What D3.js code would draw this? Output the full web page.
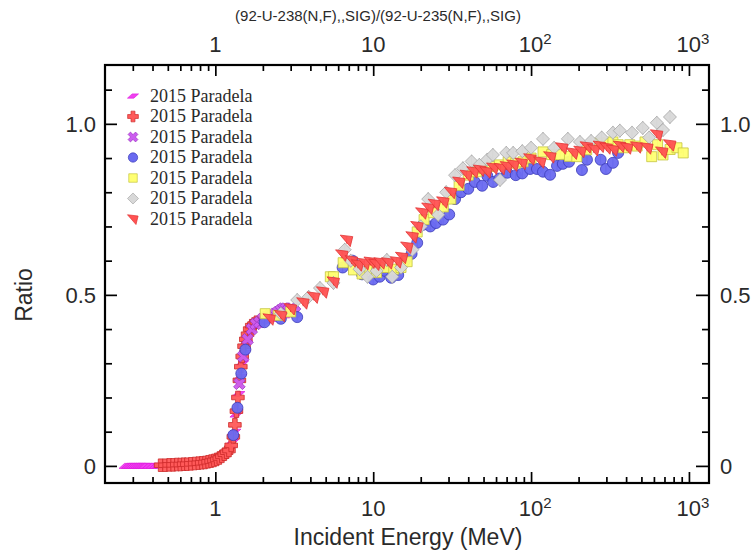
<!DOCTYPE html>
<html>
<head>
<meta charset="utf-8">
<script src="https://cdn.jsdelivr.net/npm/d3@7"></script>
<style>
  html, body { margin: 0; padding: 0; background: #fff; }
  svg { display: block; }
</style>
</head>
<body>
<svg id="chart" width="755" height="554"></svg>
<script>
// ---------------- DATA ----------------
const chartTitle = "(92-U-238(N,F),,SIG)/(92-U-235(N,F),,SIG)";
const xTitle = "Incident Energy (MeV)";
const yTitle = "Ratio";
const seriesNames = ["2015 Paradela","2015 Paradela","2015 Paradela","2015 Paradela","2015 Paradela","2015 Paradela","2015 Paradela"];

const xMajorTicks = [1, 10, 100, 1000];
const xTickLabels = [["1",""],["10",""],["10","2"],["10","3"]];
const yMajorTicks = [0, 0.5, 1.0];
const yTickLabels = ["0", "0.5", "1.0"];
const yMinorTicks = [0.1,0.2,0.3,0.4,0.6,0.7,0.8,0.9,1.1];

// series 1: magenta parallelogram
const e1 = [0.27,0.28,0.29,0.30,0.31,0.32,0.33,0.34,0.35,0.36,0.38,0.40,0.42,0.44,0.46,0.48,0.50,0.53,0.56,0.59,0.62,0.65,0.68,0.72,0.76,0.80,0.84,0.88,0.92,0.96,1.00,1.04,1.08,1.12,1.16,1.20,1.24,1.28,1.32,1.36,1.40,1.44,1.48,1.52,1.56,1.60,1.65,1.70,1.75,1.80,1.85,1.90,1.95,2.0,2.1,2.2,2.3,2.4,2.5,2.6,2.7,2.8,2.9,3.0];
const r1 = [0,0,0,0,0,0,0,0,0,0,0,0,0,0.001,0.001,0.002,0.002,0.003,0.003,0.004,0.005,0.005,0.006,0.007,0.008,0.009,0.011,0.012,0.014,0.016,0.019,0.022,0.026,0.031,0.038,0.045,0.05,0.07,0.10,0.15,0.21,0.26,0.30,0.33,0.36,0.38,0.39,0.40,0.41,0.415,0.42,0.415,0.425,0.43,0.43,0.425,0.435,0.43,0.44,0.435,0.44,0.445,0.44,0.45];

// series 2: red cross
const e2 = [0.45,0.48,0.51,0.54,0.57,0.60,0.63,0.66,0.70,0.74,0.78,0.82,0.86,0.90,0.94,0.98,1.02,1.06,1.10,1.14,1.18,1.22,1.26,1.30,1.33,1.36,1.39,1.42,1.45,1.48,1.52,1.56,1.60,1.65,1.70,1.76,1.82];
const r2 = [0.002,0.002,0.003,0.003,0.004,0.004,0.005,0.005,0.006,0.007,0.008,0.009,0.010,0.012,0.014,0.016,0.019,0.023,0.028,0.034,0.040,0.045,0.06,0.085,0.12,0.16,0.20,0.25,0.29,0.32,0.35,0.37,0.385,0.40,0.41,0.415,0.42];

// series 3: magenta X
const e3 = [1.42,1.5,1.6,1.7,1.8,1.9,2.0,2.1,2.2,2.3,2.4,2.5,2.6,2.7,2.8,2.9,3.0,3.1,3.2];
const r3 = [0.24,0.32,0.37,0.40,0.415,0.42,0.43,0.435,0.44,0.44,0.445,0.45,0.455,0.46,0.46,0.455,0.46,0.455,0.45];

// series 4: blue circle
const e4 = [1.30,1.38,1.46,1.55,2.05,2.6,3.3,6.4,7.4,8.5,10,11,11.9,13,14.4,15.9,17.5,19,20.7,23,25,27.7,30.3,33,36,40,44,49,52.8,57.5,63,70.6,80,88,98.5,109,119,132,146,159,174,210,226,276,298,330,356];
const r4 = [0.09,0.17,0.27,0.34,0.42,0.43,0.435,0.58,0.60,0.56,0.545,0.553,0.57,0.55,0.558,0.60,0.62,0.652,0.705,0.70,0.71,0.72,0.735,0.78,0.80,0.81,0.83,0.819,0.848,0.83,0.84,0.857,0.85,0.855,0.868,0.868,0.86,0.851,0.877,0.883,0.889,0.865,0.895,0.895,0.868,0.886,0.915];

// series 5: yellow square
const e5 = [2.07,2.5,3.0,5.35,5.6,6.45,7.5,8.5,9.5,10.5,12,13.5,15,16.4,19,21,24,27.8,31,35,40,45,50,56,63,71.6,80,89,100,119,135,153,175,195,225,272,303,330,356,385,422,470,527,581,633,685,760,840,920];
const r5 = [0.445,0.44,0.45,0.553,0.553,0.594,0.573,0.561,0.575,0.565,0.58,0.575,0.58,0.597,0.684,0.72,0.74,0.757,0.78,0.82,0.85,0.86,0.87,0.875,0.88,0.889,0.885,0.889,0.9,0.918,0.91,0.91,0.905,0.904,0.924,0.944,0.944,0.947,0.939,0.93,0.939,0.935,0.947,0.904,0.939,0.909,0.925,0.93,0.915];

// series 6: grey diamond
const e6 = [2.6,3.3,3.9,4.6,5.6,6.6,7.2,8.2,9.2,10.5,12.2,13.2,15,17.7,20,22.3,25.8,29,33,37,42,47,52.7,57.3,63.6,69.6,77,88,100,119,140,171,204,240,280,330,365,436,510,560,626,685,758];
const r6 = [0.445,0.485,0.494,0.52,0.535,0.632,0.60,0.575,0.553,0.57,0.602,0.553,0.58,0.632,0.70,0.78,0.734,0.80,0.85,0.87,0.89,0.88,0.895,0.909,0.836,0.915,0.915,0.92,0.93,0.956,0.93,0.956,0.947,0.95,0.96,0.974,0.98,0.974,0.988,0.96,1.003,0.982,1.02];

// series 7: red triangle
const e7 = [2.2,2.6,3.0,3.6,4.2,4.8,5.6,6.35,6.8,7.3,8.0,8.8,9.6,10.3,11.1,12.4,14.1,15.2,16.4,17.7,19,20.4,22.3,24.5,27.7,31,35,39,43,47.4,52,57.4,64,70,77,87,98.6,114,132,157,184,205,225,250,272,300,330,365,405,468,543,626,675,758];
const r7 = [0.43,0.44,0.46,0.477,0.494,0.509,0.538,0.617,0.66,0.60,0.588,0.592,0.596,0.59,0.594,0.594,0.597,0.61,0.64,0.67,0.70,0.74,0.754,0.765,0.772,0.80,0.83,0.85,0.86,0.865,0.86,0.871,0.87,0.875,0.88,0.885,0.898,0.889,0.904,0.93,0.915,0.92,0.933,0.925,0.935,0.93,0.924,0.935,0.93,0.933,0.93,0.968,0.918,0.939];

const seriesErr = [0, 0, 0, 0.014, 0.01, 0.02, 0.01];

// ---------------- STYLE ----------------
const styles = [
  {shape:"para",   fill:"#f040f0", stroke:"#e020e0"},
  {shape:"cross",  fill:"#ff5a5a", stroke:"#cc2a2a"},
  {shape:"xcross", fill:"#cc5cf0", stroke:"#9a36c0"},
  {shape:"circle", fill:"#6a6af0", stroke:"#3a3ab8"},
  {shape:"square", fill:"#ffff72", stroke:"#c4c440"},
  {shape:"diamond",fill:"#d8d8d8", stroke:"#a6a6a6"},
  {shape:"tri",    fill:"#ff5252", stroke:"#e23232"}
];
const energies = [e1,e2,e3,e4,e5,e6,e7];
const ratios = [r1,r2,r3,r4,r5,r6,r7];

const svg = d3.select("#chart");
const L = 105, R = 709, T = 65, B = 483;

const x = d3.scaleLog().domain([0.2, 1340]).range([L, R]);
const y = d3.scaleLinear().domain([-0.05, 1.172]).range([B, T]);

const sansFont = "'Liberation Sans', Arial, sans-serif";
const serifFont = "'Liberation Serif', 'Times New Roman', serif";
const textColor = "#2a2a2a";

function shapePath(shape) {
  switch (shape) {
    case "para":   return "M-6.5,2.5 L1,2.5 L6.5,-2.5 L-1,-2.5 Z";
    case "cross":  return "M-2.3,-6.3 L2.3,-6.3 L2.3,-2.3 L6.3,-2.3 L6.3,2.3 L2.3,2.3 L2.3,6.3 L-2.3,6.3 L-2.3,2.3 L-6.3,2.3 L-6.3,-2.3 L-2.3,-2.3 Z";
    case "xcross": return "M0,-2.8 L3,-5.8 L5.8,-3 L2.8,0 L5.8,3 L3,5.8 L0,2.8 L-3,5.8 L-5.8,3 L-2.8,0 L-5.8,-3 L-3,-5.8 Z";
    case "circle": return d3.symbol(d3.symbolCircle, 95)();
    case "square": return "M-5,-5 L5,-5 L5,5 L-5,5 Z";
    case "diamond":return "M0,-6.5 L6.5,0 L0,6.5 L-6.5,0 Z";
    case "tri":    return "M-6.5,-5 L6,-3.5 L3.5,6.5 Z";
  }
}

// clip
svg.append("clipPath").attr("id","clip").append("rect")
  .attr("x", L).attr("y", T).attr("width", R-L).attr("height", B-T);

const plot = svg.append("g").attr("clip-path","url(#clip)");

energies.forEach((es, i) => {
  const st = styles[i];
  const pts = es.map((e, j) => ({e, r: ratios[i][j]}));
  const g = plot.append("g");
  if (seriesErr[i] > 0) {
    g.selectAll("line.err").data(pts).enter().append("line")
      .attr("x1", d => x(d.e)).attr("x2", d => x(d.e))
      .attr("y1", d => y(d.r - seriesErr[i])).attr("y2", d => y(d.r + seriesErr[i]))
      .attr("stroke", st.stroke).attr("stroke-width", 1);
  }
  g.selectAll("path.m").data(pts).enter().append("path")
    .attr("d", shapePath(st.shape))
    .attr("transform", d => `translate(${x(d.e)},${y(d.r)})`)
    .attr("fill", st.fill).attr("stroke", st.stroke).attr("stroke-width", 0.8)
    .attr("fill-opacity", 0.95);
});

// ---------- axes ----------
const minorX = [];
[0.1, 1, 10, 100].forEach(dec => { for (let k = 2; k <= 9; k++) minorX.push(dec*k); });
const minorXIn = minorX.filter(v => v > 0.2 && v < 1340);

const axB = svg.append("g").attr("transform", `translate(0,${B})`)
  .call(d3.axisBottom(x).tickValues(xMajorTicks).tickSize(-11).tickFormat(""));
const axBm = svg.append("g").attr("transform", `translate(0,${B})`)
  .call(d3.axisBottom(x).tickValues(minorXIn).tickSize(-6).tickFormat(""));
const axT = svg.append("g").attr("transform", `translate(0,${T})`)
  .call(d3.axisTop(x).tickValues(xMajorTicks).tickSize(-11).tickFormat(""));
const axTm = svg.append("g").attr("transform", `translate(0,${T})`)
  .call(d3.axisTop(x).tickValues(minorXIn).tickSize(-6).tickFormat(""));
const axL = svg.append("g").attr("transform", `translate(${L},0)`)
  .call(d3.axisLeft(y).tickValues(yMajorTicks).tickSize(-12).tickFormat(""));
const axLm = svg.append("g").attr("transform", `translate(${L},0)`)
  .call(d3.axisLeft(y).tickValues(yMinorTicks).tickSize(-7).tickFormat(""));
const axR = svg.append("g").attr("transform", `translate(${R},0)`)
  .call(d3.axisRight(y).tickValues(yMajorTicks).tickSize(-13).tickFormat(""));
const axRm = svg.append("g").attr("transform", `translate(${R},0)`)
  .call(d3.axisRight(y).tickValues(yMinorTicks).tickSize(-7).tickFormat(""));

[axB,axBm,axT,axTm,axL,axLm,axR,axRm].forEach(a => {
  a.select(".domain").remove();
  a.selectAll("line").attr("stroke","#000").attr("stroke-width",1.7);
});

// frame
svg.append("rect").attr("x", L).attr("y", T).attr("width", R-L).attr("height", B-T)
  .attr("fill","none").attr("stroke","#000").attr("stroke-width",2.2);

// x tick labels top & bottom
function xLabel(yPos) {
  xMajorTicks.forEach((v, i) => {
    const t = svg.append("text")
      .attr("x", x(v) + (xTickLabels[i][1] ? 4 : 0)).attr("y", yPos)
      .attr("text-anchor","middle")
      .attr("font-family", sansFont).attr("font-size", 22).attr("fill", textColor);
    t.append("tspan").text(xTickLabels[i][0]);
    if (xTickLabels[i][1]) {
      t.append("tspan").attr("dy", -8).attr("font-size", 15).text(xTickLabels[i][1]);
    }
  });
}
xLabel(52);
xLabel(516);

// y tick labels
yMajorTicks.forEach((v, i) => {
  svg.append("text").attr("x", 96).attr("y", y(v)).attr("dy","0.36em")
    .attr("text-anchor","end").attr("font-family", sansFont).attr("font-size", 22).attr("fill", textColor)
    .text(yTickLabels[i]);
  svg.append("text").attr("x", 720).attr("y", y(v)).attr("dy","0.36em")
    .attr("text-anchor","start").attr("font-family", sansFont).attr("font-size", 22).attr("fill", textColor)
    .text(yTickLabels[i]);
});

// titles
svg.append("text").attr("x", 378).attr("y", 21).attr("text-anchor","middle")
  .attr("font-family", sansFont).attr("font-size", 15).attr("fill", textColor).text(chartTitle);
svg.append("text").attr("x", 408).attr("y", 545).attr("text-anchor","middle")
  .attr("font-family", sansFont).attr("font-size", 23).attr("fill", textColor).text(xTitle);
svg.append("text").attr("transform","translate(32,295) rotate(-90)").attr("text-anchor","middle")
  .attr("font-family", sansFont).attr("font-size", 23).attr("fill", textColor).text(yTitle);

// legend
const lg = svg.append("g");
seriesNames.forEach((name, i) => {
  const yy = 96 + i*20.5;
  lg.append("path").attr("d", shapePath(styles[i].shape))
    .attr("transform", `translate(133,${yy}) scale(0.85)`)
    .attr("fill", styles[i].fill).attr("stroke", styles[i].stroke).attr("stroke-width",0.8);
  lg.append("text").attr("x", 150).attr("y", yy).attr("dy","0.33em")
    .attr("font-family", serifFont).attr("font-size", 18).attr("fill", textColor).text(name);
});
</script>
</body>
</html>
